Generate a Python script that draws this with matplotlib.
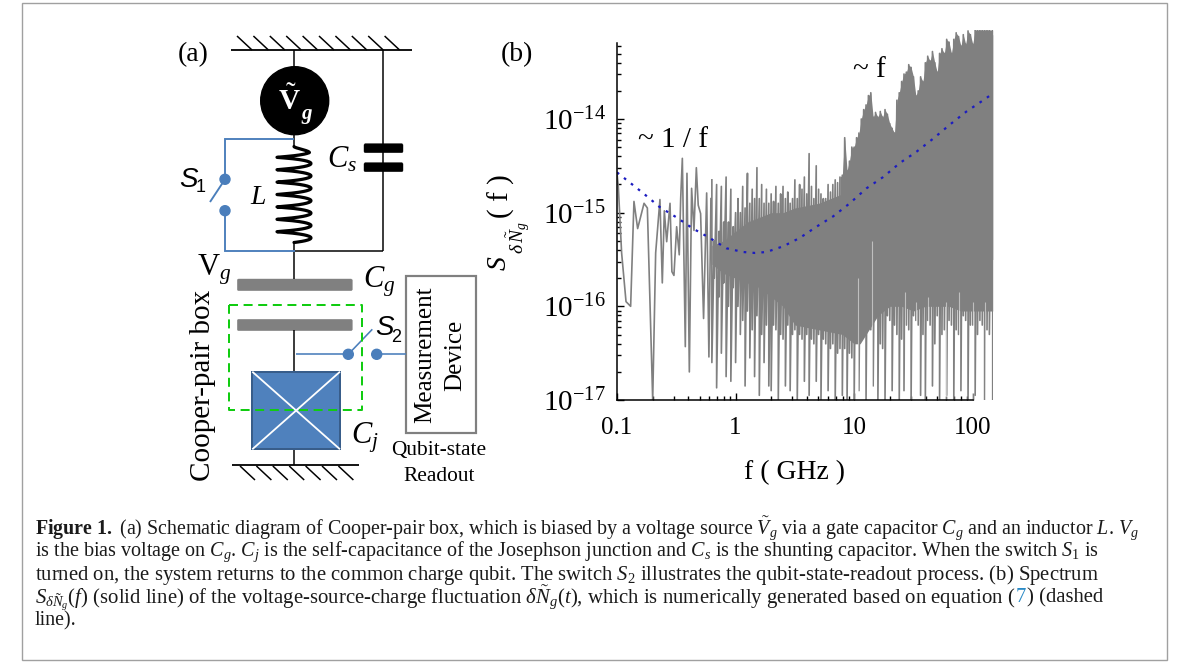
import numpy as np
import matplotlib
matplotlib.use("Agg")
from matplotlib import pyplot as plt
from matplotlib.patches import Circle, Rectangle, FancyBboxPatch

plt.rcParams['font.family'] = ['Liberation Serif', 'DejaVu Sans']
plt.rcParams['mathtext.fontset'] = 'custom'
plt.rcParams['mathtext.rm'] = 'Liberation Serif'
plt.rcParams['mathtext.it'] = 'Liberation Serif:italic'
plt.rcParams['mathtext.bf'] = 'Liberation Serif:bold'

# values, all in decades (log10 f in GHz, log10 S)
# sparse part of the spectrum, below about 0.6 GHz
low_logf = [-1.0, -0.989, -0.961, -0.924, -0.885, -0.857, -0.826, -0.772, -0.744, -0.699,
            -0.674, -0.638, -0.618, -0.601, -0.581, -0.553, -0.537, -0.520, -0.497, -0.475,
            -0.463, -0.449, -0.424, -0.410, -0.390, -0.371, -0.351, -0.331, -0.315, -0.295,
            -0.270, -0.244, -0.225, -0.208]
low_logS = [-14.58, -14.72, -15.43, -15.95, -16.0, -14.88, -15.17, -14.90, -14.95, -17.0,
            -15.43, -14.86, -15.75, -14.98, -15.31, -14.90, -15.63, -15.67, -15.15, -15.45,
            -14.85, -14.42, -16.43, -14.58, -16.70, -14.74, -15.19, -14.52, -14.92, -15.01,
            -16.13, -14.79, -16.54, -14.85]

# dense part: one upper and one lower excursion per frequency step
spike_logf = [-0.20, -0.18, -0.16, -0.14, -0.12, -0.10, -0.08, -0.06, -0.04, -0.02,
              0.00, 0.02, 0.04, 0.06, 0.08, 0.10, 0.12, 0.14, 0.16, 0.18,
              0.20, 0.22, 0.24, 0.26, 0.28, 0.30, 0.32, 0.34, 0.36, 0.38,
              0.40, 0.42, 0.44, 0.46, 0.48, 0.50, 0.52, 0.54, 0.56, 0.58,
              0.60, 0.62, 0.64, 0.66, 0.68, 0.70, 0.72, 0.74, 0.76, 0.78,
              0.80, 0.82, 0.84, 0.86, 0.88, 0.90, 0.92, 0.94, 0.96, 0.98,
              1.00, 1.02, 1.04, 1.06, 1.08, 1.10, 1.12, 1.14, 1.16, 1.18,
              1.20, 1.22, 1.24, 1.26, 1.28, 1.30, 1.32, 1.34, 1.36, 1.38,
              1.40, 1.42, 1.44, 1.46, 1.48, 1.50, 1.52, 1.54, 1.56, 1.58,
              1.60, 1.62, 1.64, 1.66, 1.68, 1.70, 1.72, 1.74, 1.76, 1.78,
              1.80, 1.82, 1.84, 1.86, 1.88, 1.90, 1.92, 1.94, 1.96, 1.98,
              2.00, 2.02, 2.04, 2.06, 2.08, 2.10, 2.12, 2.14, 2.168]
spike_top = [-14.65, -15.30, -14.70, -15.20, -14.72, -15.10, -14.62, -15.10, -14.75, -15.15,
             -15.00, -14.85, -15.00, -14.72, -14.95, -14.58, -14.90, -14.75, -14.85, -14.52,
             -14.85, -14.70, -14.90, -14.75, -14.90, -14.80, -14.88, -14.72, -14.90, -14.80,
             -14.72, -14.85, -14.78, -14.90, -14.85, -14.65, -14.85, -14.70, -14.75, -14.62,
             -14.80, -14.37, -14.72, -14.85, -14.50, -14.75, -14.80, -14.85, -14.85, -14.70,
             -14.78, -14.70, -14.65, -14.68, -14.62, -14.60, -14.20, -14.55, -14.45, -14.30,
             -14.30, -14.20, -14.15, -14.00, -13.90, -13.85, -13.75, -13.72, -13.98, -13.93,
             -13.98, -13.92, -13.98, -13.90, -13.95, -14.05, -14.10, -14.15, -13.80, -13.72,
             -13.60, -13.52, -13.50, -13.42, -13.45, -13.55, -13.75, -13.70, -13.55, -13.60,
             -13.40, -13.33, -13.38, -13.28, -13.40, -13.50, -13.30, -13.25, -13.30, -13.15,
             -13.18, -13.30, -13.15, -13.08, -13.12, -13.22, -13.10, -13.20, -13.06, -13.10,
             -13.20, -13.05, -13.05, -13.05, -13.05, -13.05, -13.05, -13.05, -13.05]
spike_bot = [-16.60, -15.70, -16.87, -15.90, -16.50, -15.75, -16.75, -16.00, -16.80, -15.80,
             -16.60, -16.00, -16.30, -16.15, -16.85, -16.05, -16.55, -16.25, -16.75, -16.10,
             -16.95, -16.30, -16.60, -16.20, -16.85,
             -16.90, -16.20, -16.25, -17.00, -16.30, -16.35, -16.85, -16.20, -16.90, -16.30,
             -16.25, -17.00, -16.30, -16.35, -16.80, -16.30, -16.95, -16.35, -16.40, -16.80,
             -16.30, -17.00, -16.35, -16.40, -16.90, -16.45, -16.40, -17.00, -16.50, -16.45,
             -16.95, -16.45, -17.00, -16.50, -16.55,
             -17.00, -16.30, -16.90, -16.35, -16.30, -17.00, -16.20, -16.25, -16.85, -16.10,
             -17.00, -16.40, -16.45, -17.00, -16.10, -16.15, -16.90, -16.20, -16.30, -17.00,
             -16.35, -16.90, -16.20, -16.25, -17.00, -16.10, -16.15, -16.20, -16.95, -16.30,
             -17.00, -16.15, -16.20, -16.85, -16.40, -16.10, -17.00, -16.30, -16.25, -16.95,
             -16.15, -16.20, -17.00, -16.25, -16.30, -16.90, -16.10, -16.15, -17.00, -16.20,
             -16.20, -16.95, -16.30, -16.15, -16.20, -17.00, -16.25, -16.30, -17.00]

# solid grey body of the dense part
band_logf = [-0.20, -0.10, 0.00, 0.10, 0.20, 0.30, 0.40, 0.50, 0.70, 0.90, 1.00, 1.05,
             1.10, 1.20, 1.30, 1.40, 1.50, 1.60, 1.70, 1.80, 1.90, 2.00, 2.168]
band_top = [-15.35, -15.30, -15.20, -15.10, -15.05, -15.00, -15.00, -14.95, -14.90, -14.80, -14.60, -14.50,
            -14.30, -14.20, -14.30, -14.00, -13.90, -13.70, -13.60, -13.40, -13.30, -13.20, -13.10]
band_bot = [-15.55, -15.65, -15.70, -15.75, -15.80, -15.90, -16.00, -16.20, -16.25, -16.30, -16.40, -16.40,
            -16.30, -16.10, -16.00, -16.00, -16.05, -16.00, -16.00, -16.00, -16.05, -16.05, -16.05]

# pale slits seen in the lower part of the body
slit_logf = [1.03, 1.15, 1.43, 1.52, 1.62, 1.77, 1.88, 2.00, 2.10]
slit_top = [-15.70, -15.30, -15.85, -15.95, -15.90, -15.95, -15.85, -15.95, -15.95]

# dashed curve
fit_logf = [-1.0, -0.781, -0.640, -0.499, -0.359, -0.218, -0.078, 0.062, 0.161, 0.260, 0.400, 0.541,
            0.682, 0.822, 0.963, 1.104, 1.244, 1.385, 1.525, 1.666, 1.807, 1.947, 2.088, 2.167]
fit_logS = [-14.57, -14.79, -14.94, -15.05, -15.17, -15.27, -15.38, -15.42, -15.43, -15.42, -15.36, -15.27,
            -15.15, -15.04, -14.90, -14.74, -14.62, -14.47, -14.35, -14.21, -14.06, -13.92, -13.80, -13.73]

x_ticks = [0.1, 1, 10, 100]
x_tick_labels = ["0.1", "1", "10", "100"]
y_ticks = [1e-17, 1e-16, 1e-15, 1e-14]
y_tick_labels = ["$10^{-17}$", "$10^{-16}$", "$10^{-15}$", "$10^{-14}$"]

caption_lines = [
    r"$\mathbf{Figure\ 1.}$ (a) Schematic diagram of Cooper-pair box, which is biased by a voltage source $\tilde{V}_g$ via a gate capacitor $C_g$ and an inductor $L$. $V_g$",
    r"is the bias voltage on $C_g$. $C_j$ is the self-capacitance of the Josephson junction and $C_s$ is the shunting capacitor. When the switch $S_1$ is",
    r"turned on, the system returns to the common charge qubit. The switch $S_2$ illustrates the qubit-state-readout process. (b) Spectrum",
    r"$S_{\delta\tilde{N}_g}(f)$ (solid line) of the voltage-source-charge fluctuation $\delta\tilde{N}_g(t)$, which is numerically generated based on equation (",
    "line).",
]
caption_sizes = [14.4, 14.5, 14.9, 14.95, 14.4]

W, H = 1182, 662
BLUE = "#4a7ebb"
GREY = "#808080"

fig = plt.figure(figsize=(W / 100, H / 100), dpi=100)
bg = fig.add_axes([0, 0, 1, 1])
bg.set_xlim(0, W)
bg.set_ylim(H, 0)
bg.axis("off")

px = 0.72  # line widths below are given in image pixels


def wire(xs, ys, color="black", lw=1.5, **kw):
    bg.plot(xs, ys, color=color, lw=lw * px, solid_capstyle="butt", solid_joinstyle="miter", **kw)


def ground(x0, x1, y, x_start, step, n, rise, down):
    wire([x0, x1], [y, y], lw=1.8)
    for i in range(n):
        xa = x_start + i * step
        if down:
            wire([xa, xa + 15], [y + 1, y + 1 + rise], lw=1.5)
        else:
            wire([xa, xa + 15], [y - rise, y], lw=1.5)


def plate(x0, x1, y0, y1, color):
    bg.add_patch(FancyBboxPatch((x0, y0), x1 - x0, y1 - y0, boxstyle="round,pad=0,rounding_size=1.5",
                                fc=color, ec=color, lw=0.3))


# frame
bg.add_patch(Rectangle((21.5, 3), 1145, 657, fc="none", ec="#a0a0a0", lw=1.4 * px))

# grounds
ground(231, 412, 50, 237, 16.4, 10, 14, False)
ground(232, 359, 465, 240, 16.4, 7, 14, True)

# black wires
wire([294, 294], [50, 148])
wire([383.3, 383.3], [50, 251])
wire([294, 383.3], [251, 251])
wire([294, 294], [241, 279])
wire([294, 294], [330, 372])
wire([294, 294], [449, 465])

# source
bg.add_patch(Circle((294.7, 100.7), 34, fc="black", ec="black", zorder=3))
bg.text(289, 101, r"$\tilde{\mathbf{V}}$", color="white", fontsize=21, ha="center", va="center", zorder=4)
bg.text(306.5, 114, "g", color="white", fontsize=15, style="italic", weight="bold",
        ha="center", va="center", zorder=4)

# inductor
t = np.linspace(0, 2 * np.pi * 7.5, 600)
coil_x = 294 + 17 * np.sin(t) * np.minimum(1, t / 2)
coil_y = 148 + (241 - 148) * t / t[-1] - 1.5 * np.cos(t)
bg.plot(coil_x, coil_y, color="black", lw=3.2 * px, solid_capstyle="round")

# capacitors
plate(364, 403, 143.7, 152.7, "black")
plate(364, 403, 162.7, 171.7, "black")
plate(237.3, 352.3, 279, 290.7, GREY)
plate(237.3, 352.3, 319.3, 330.7, GREY)

# S1
wire([294, 225, 225], [138.7, 138.7, 179.3], color=BLUE, lw=1.9)
wire([225, 210], [179.3, 202], color=BLUE, lw=1.9)
wire([225, 225, 295], [210.7, 251, 251], color=BLUE, lw=1.9)
bg.add_patch(Circle((225, 179.3), 5, fc=BLUE, ec=BLUE, zorder=3))
bg.add_patch(Circle((225, 210.7), 5, fc=BLUE, ec=BLUE, zorder=3))

# junction
bg.add_patch(Rectangle((252.3, 371.7), 87.7, 77.6, fc="#4f81bd", ec="#385d8a", lw=2 * px, zorder=2))
wire([252.3, 340], [371.7, 449.3], color="white", lw=1.8, zorder=3)
wire([252.3, 340], [449.3, 371.7], color="white", lw=1.8, zorder=3)

# green box
bg.plot([229, 362, 362, 229, 229], [305, 305, 410.3, 410.3, 305], color="#11cc11", lw=2 * px,
        dashes=(4.5, 2.8), zorder=4)

# S2 and readout box
wire([296, 348.3], [354.3, 354.3], color=BLUE, lw=1.6)
wire([348.3, 372.3], [354.3, 329.3], color=BLUE, lw=1.6)
wire([376.7, 405.7], [354.3, 354.3], color=BLUE, lw=1.6)
bg.add_patch(Circle((348.3, 354.3), 5, fc=BLUE, ec=BLUE, zorder=3))
bg.add_patch(Circle((376.7, 354.3), 5, fc=BLUE, ec=BLUE, zorder=3))
bg.add_patch(Rectangle((405.7, 275.7), 70, 157, fc="white", ec=GREY, lw=2.2 * px))

# schematic labels
bg.text(193, 55, "(a)", fontsize=20, ha="center", va="center")
bg.text(517, 55, "(b)", fontsize=20, ha="center", va="center")
bg.text(425, 355, "Measurement", fontsize=18, rotation=90, ha="center", va="center")
bg.text(455, 355, "Device", fontsize=18, rotation=90, ha="center", va="center")
bg.text(438.7, 450, "Qubit-state", fontsize=15.4, ha="center", va="center")
bg.text(439, 476.7, "Readout", fontsize=15.4, ha="center", va="center")
bg.text(203, 385, "Cooper-pair box", fontsize=21, rotation=90, ha="center", va="center")
bg.text(258.7, 198, "$L$", fontsize=20, ha="center", va="center")
bg.text(342, 160, "$C_s$", fontsize=22, ha="center", va="center")
bg.text(214, 270, r"$\mathrm{V}_g$", fontsize=22, ha="center", va="center")
bg.text(379, 282, "$C_g$", fontsize=22, ha="center", va="center")
bg.text(365, 438, "$C_j$", fontsize=22, ha="center", va="center")
bg.text(188.5, 180, "S", fontsize=20, family="Liberation Sans", style="italic", ha="center", va="center")
bg.text(200.7, 188, "1", fontsize=13, family="Liberation Sans", ha="center", va="center")
bg.text(384, 328.3, "S", fontsize=20, family="Liberation Sans", style="italic", ha="center", va="center")
bg.text(396, 337, "2", fontsize=13, family="Liberation Sans", ha="center", va="center")

# caption
caption_y = [529, 552, 575, 598, 621]
for line, y, size in zip(caption_lines, caption_y, caption_sizes):
    last = bg.text(35, y, line, fontsize=size, ha="left", va="center", color="#1a1a1a")
    if line.endswith("("):
        fig.canvas.draw()
        r = fig.canvas.get_renderer()
        x_end = last.get_window_extent(r).x1
        seven = bg.text(x_end + 0.5, y, "7", fontsize=size, ha="left", va="center", color="#2a8ac6")
        x_end = seven.get_window_extent(r).x1
        bg.text(x_end + 0.5, y, ") (dashed", fontsize=size, ha="left", va="center", color="#1a1a1a")

# panel (b)
ax = fig.add_axes([617 / W, 1 - 400 / H, (992.7 - 617) / W, 370 / H])
ax.patch.set_alpha(0)
ax.set_xscale("log")
ax.set_yscale("log")

spike_x = np.repeat(spike_logf, 2)
spike_y = np.column_stack([spike_top, spike_bot]).ravel()
ax.fill_between(10.0 ** np.array(band_logf), 10.0 ** np.array(band_bot), 10.0 ** np.array(band_top),
                color=GREY, lw=0)
ax.fill_between(10.0 ** np.array(spike_logf[54:]), 10.0 ** -15.5, 10.0 ** np.array(spike_top[54:]),
                color=GREY, lw=0)
ax.plot(10.0 ** np.array(low_logf), 10.0 ** np.array(low_logS), color=GREY, lw=1.2)
ax.plot(10.0 ** spike_x, 10.0 ** spike_y, color=GREY, lw=1.2)
ax.vlines(10.0 ** np.array(slit_logf), 1e-17, 10.0 ** np.array(slit_top), color="white", lw=0.8, alpha=0.5)
ax.plot(10.0 ** np.array(fit_logf), 10.0 ** np.array(fit_logS), color="#1c1cc0", lw=1.6, dashes=(1.2, 2.8))

ax.set_xlim(0.1, 10 ** 2.168)
ax.set_ylim(1e-17, 10 ** -13.05)

for s in ["top", "right"]:
    ax.spines[s].set_visible(False)
ax.spines["left"].set_bounds(1e-17, 10 ** -13.19)
ax.spines["bottom"].set_bounds(0.1, 100)
ax.spines["left"].set_linewidth(1.1)
ax.spines["bottom"].set_linewidth(1.1)

ax.set_xticks(x_ticks)
ax.set_xticklabels(x_tick_labels, fontsize=18)
ax.set_yticks(y_ticks)
ax.set_yticklabels(y_tick_labels, fontsize=21)
subs = [2, 3, 4, 5, 6, 7, 8, 9]
ax.set_xticks([d * s for d in [0.1, 1, 10] for s in subs], minor=True)
ax.set_xticklabels([], minor=True)
ax.set_yticks([d * s for d in [1e-17, 1e-16, 1e-15] for s in subs] + [1e-14 * s for s in subs[:5]], minor=True)
ax.set_yticklabels([], minor=True)
ax.tick_params(which="major", direction="in", length=5, width=1.0, pad=8)
ax.tick_params(which="minor", direction="in", length=3.2, width=1.0)
ax.tick_params(axis="x", which="major", pad=12)

bg.text(673, 140, "~ 1 / f", fontsize=21, ha="center", va="center")
bg.text(869, 70, "~ f", fontsize=21, ha="center", va="center")
bg.text(795, 473, "f ( GHz )", fontsize=20, ha="center", va="center")
bg.text(499, 263, "$S$", fontsize=20, rotation=90, ha="center", va="center")
bg.text(518, 238, r"$\delta\,\tilde{N}_g$", fontsize=14, rotation=90, ha="center", va="center")
bg.text(501, 196, "( f )", fontsize=21, rotation=90, ha="center", va="center")

fig.savefig("out.png", dpi=100)
